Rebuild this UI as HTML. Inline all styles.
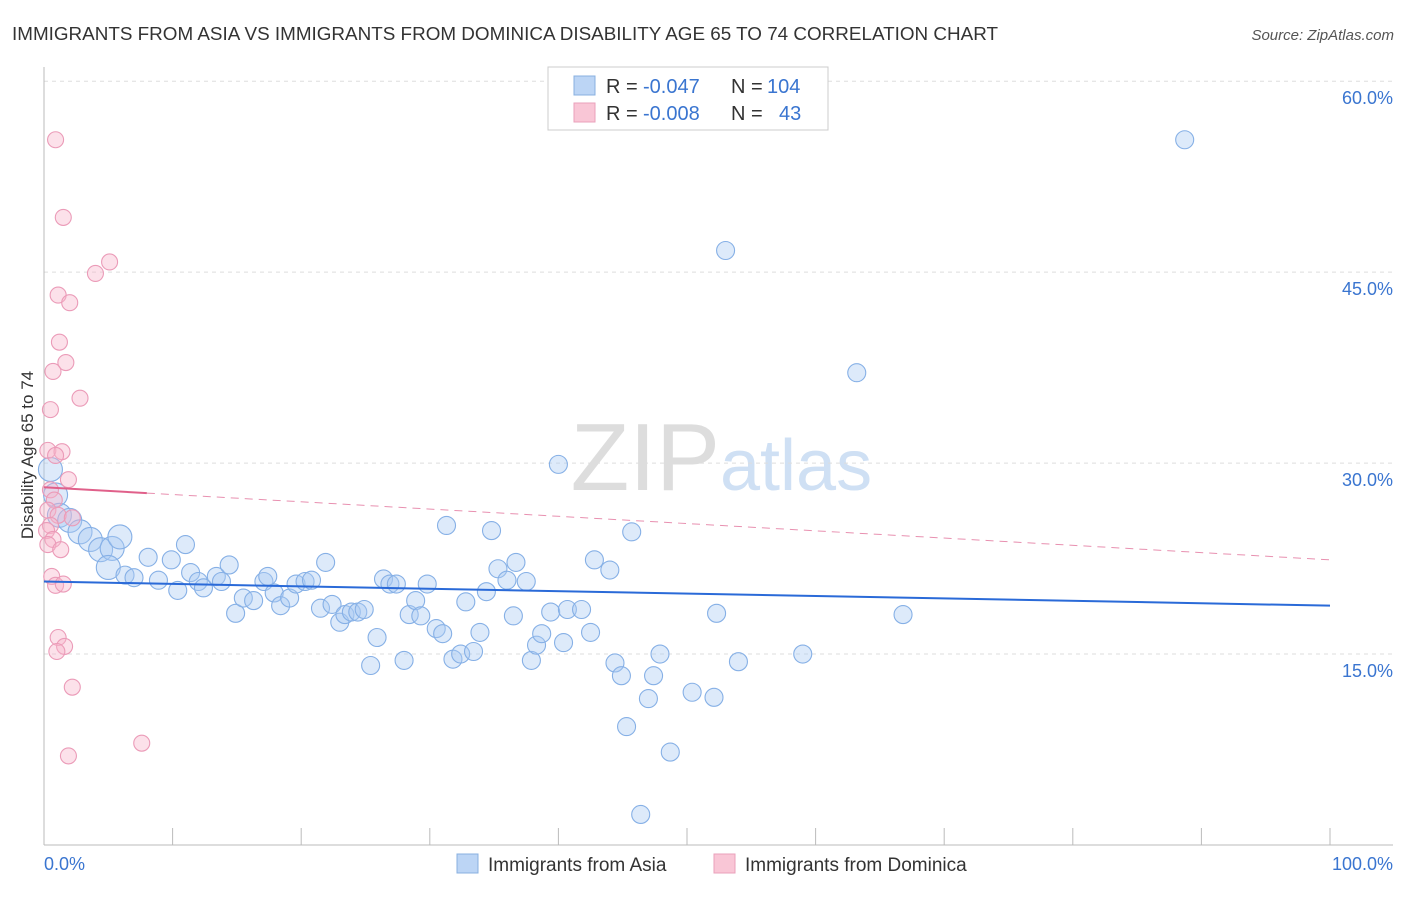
<!DOCTYPE html>
<html><head><meta charset="utf-8"><style>
body{margin:0;background:#fff;font-family:"Liberation Sans",sans-serif}
svg text{font-family:"Liberation Sans",sans-serif}
</style></head><body>
<svg id="c" width="1406" height="892">
<text x="12" y="40" font-size="18" fill="#333" textLength="986" lengthAdjust="spacingAndGlyphs">IMMIGRANTS FROM ASIA VS IMMIGRANTS FROM DOMINICA DISABILITY AGE 65 TO 74 CORRELATION CHART</text>
<text x="1394" y="40" font-size="15" fill="#555" font-style="italic" text-anchor="end">Source: ZipAtlas.com</text>
<text x="720" y="490" font-size="96" fill="#ddd" text-anchor="end" font-family="Liberation Serif">ZIP</text>
<text x="720" y="490" font-size="72" fill="#cfe0f4">atlas</text>
<text transform="translate(33,455) rotate(-90)" font-size="17" fill="#333" text-anchor="middle">Disability Age 65 to 74</text>
<g id="grid"></g><g id="marks"></g>
<g>
<rect x="548" y="67" width="280" height="63" fill="#fff" stroke="#ccc"/>
<rect x="574" y="76" width="21" height="19" fill="#bcd5f5" stroke="#88b0e0"/>
<rect x="574" y="103" width="21" height="19" fill="#f9c6d6" stroke="#eaa0bb"/>
<text x="606" y="93" font-size="20" fill="#333">R =</text>
<text x="643" y="93" font-size="20" fill="#3a75d0">-0.047</text>
<text x="731" y="93" font-size="20" fill="#333">N =</text>
<text x="767" y="93" font-size="20" fill="#3a75d0">104</text>
<text x="606" y="120" font-size="20" fill="#333">R =</text>
<text x="643" y="120" font-size="20" fill="#3a75d0">-0.008</text>
<text x="731" y="120" font-size="20" fill="#333">N =</text>
<text x="779" y="120" font-size="20" fill="#3a75d0">43</text>
</g>
<g>
<rect x="457" y="854" width="21" height="19" fill="#bcd5f5" stroke="#88b0e0"/>
<text x="488" y="871" font-size="19" fill="#333">Immigrants from Asia</text>
<rect x="714" y="854" width="21" height="19" fill="#f9c6d6" stroke="#eaa0bb"/>
<text x="745" y="871" font-size="19" fill="#333">Immigrants from Dominica</text>
</g>
</svg>
<script>
const yTicks=[15,30,45,60];
const xTickLabels=["0.0%","100.0%"];
const asiaX=[88.7,53.0,63.2,40.0,31.3,34.8,45.7,0.5,0.9,1.2,2.0,2.8,3.6,4.4,5.3,5.9,5.0,6.3,7.0,8.1,8.9,9.9,10.4,11.0,11.4,12.0,12.4,13.4,13.8,14.4,14.9,15.5,16.3,17.1,17.4,17.9,18.4,19.1,19.6,20.3,20.8,21.5,21.9,22.4,23.0,23.4,23.9,24.4,24.9,25.4,25.9,26.4,26.9,27.4,28.0,28.4,28.9,29.3,29.8,30.5,31.0,31.8,32.4,32.8,33.4,33.9,34.4,35.3,36.0,36.5,36.7,37.5,37.9,38.3,38.7,39.4,40.4,40.7,41.8,42.5,42.8,44.0,44.4,44.9,45.3,46.4,47.0,47.4,47.9,48.7,50.4,52.1,52.3,54.0,59.0,66.8];
const asiaY=[55.4,46.7,37.1,29.9,25.1,24.7,24.6,29.5,27.5,25.9,25.5,24.6,24.0,23.2,23.3,24.2,21.8,21.2,21.0,22.6,20.8,22.4,20.0,23.6,21.4,20.7,20.2,21.1,20.7,22.0,18.2,19.4,19.2,20.7,21.1,19.8,18.8,19.4,20.5,20.7,20.8,18.6,22.2,18.9,17.5,18.1,18.3,18.3,18.5,14.1,16.3,20.9,20.5,20.5,14.5,18.1,19.2,18.0,20.5,17.0,16.6,14.6,15.0,19.1,15.2,16.7,19.9,21.7,20.8,18.0,22.2,20.7,14.5,15.7,16.6,18.3,15.9,18.5,18.5,16.7,22.4,21.6,14.3,13.3,9.3,2.4,11.5,13.3,15.0,7.3,12.0,11.6,18.2,14.4,15.0,18.1];
const domX=[0.9,1.5,5.1,4.0,1.1,2.0,1.2,1.7,0.7,2.8,0.5,0.3,1.4,0.9,1.9,0.5,0.8,0.3,1.1,2.2,0.5,0.2,0.7,0.3,1.3,0.6,0.9,1.5,1.1,1.6,1.0,2.2,7.6,1.9];
const domY=[55.4,49.3,45.8,44.9,43.2,42.6,39.5,37.9,37.2,35.1,34.2,31.0,30.9,30.6,28.7,27.9,27.1,26.3,25.9,25.7,25.1,24.7,24.0,23.6,23.2,21.1,20.4,20.5,16.3,15.6,15.2,12.4,8.0,7.0];
const asiaTrend=[20.7,18.8];
const domTrend=[28.1,22.4];
const X=v=>44+v*12.86, Y=v=>845-v*12.73;
const NS="http://www.w3.org/2000/svg";
function mk(tag,attrs,parent){const e=document.createElementNS(NS,tag);for(const k in attrs)e.setAttribute(k,attrs[k]);document.getElementById(parent).appendChild(e);return e;}
yTicks.forEach(t=>{
 const l=mk('line',{x1:44,x2:1393,y1:Y(t),y2:Y(t),stroke:'#ddd','stroke-dasharray':'4,4'},'grid');
 
 
 const tx=mk('text',{x:1393,y:Y(t)+23,'font-size':18,fill:'#3a75d0','text-anchor':'end'},'grid');tx.textContent=t.toFixed(1)+'%';
 
 
});
const ax=mk('line',{x1:44,x2:44,y1:67,y2:845,stroke:'#bbb'},'grid');


const bx=mk('line',{x1:44,x2:1393,y1:845,y2:845,stroke:'#bbb'},'grid');


for(let i=0;i<=10;i++){const t=mk('line',{x1:X(i*10),x2:X(i*10),y1:828,y2:845,stroke:'#bbb'},'grid');
 
 }
[[X(0),'start',xTickLabels[0]],[1393,'end',xTickLabels[1]]].forEach(a=>{const t=mk('text',{x:a[0],y:870,'font-size':18,fill:'#3a75d0','text-anchor':a[1]},'grid');t.textContent=a[2];
 
 });
asiaX.forEach((x,i)=>{const r=x<6?12:9;const c=mk('circle',{cx:X(x),cy:Y(asiaY[i]),r:r,fill:'rgba(170,203,242,0.4)',stroke:'#86b0e6','stroke-width':1.1},'marks');
 
 });
domX.forEach((x,i)=>{const c=mk('circle',{cx:X(x),cy:Y(domY[i]),r:8,fill:'rgba(247,180,202,0.4)',stroke:'#eb9bb8','stroke-width':1.1},'marks');
 
 });
const tl=mk('line',{x1:X(0),x2:X(100),y1:Y(asiaTrend[0]),y2:Y(asiaTrend[1]),stroke:'#2a6ad8','stroke-width':2},'marks');


const dAt=v=>domTrend[0]+(domTrend[1]-domTrend[0])*v/100;
const ps=mk('line',{x1:X(0),x2:X(8),y1:Y(dAt(0)),y2:Y(dAt(8)),stroke:'#e0608a','stroke-width':2},'marks');


const pd=mk('line',{x1:X(8),x2:X(100),y1:Y(dAt(8)),y2:Y(dAt(100)),stroke:'#e890b0','stroke-width':1,'stroke-dasharray':'8,6'},'marks');


</script>
</body></html>
